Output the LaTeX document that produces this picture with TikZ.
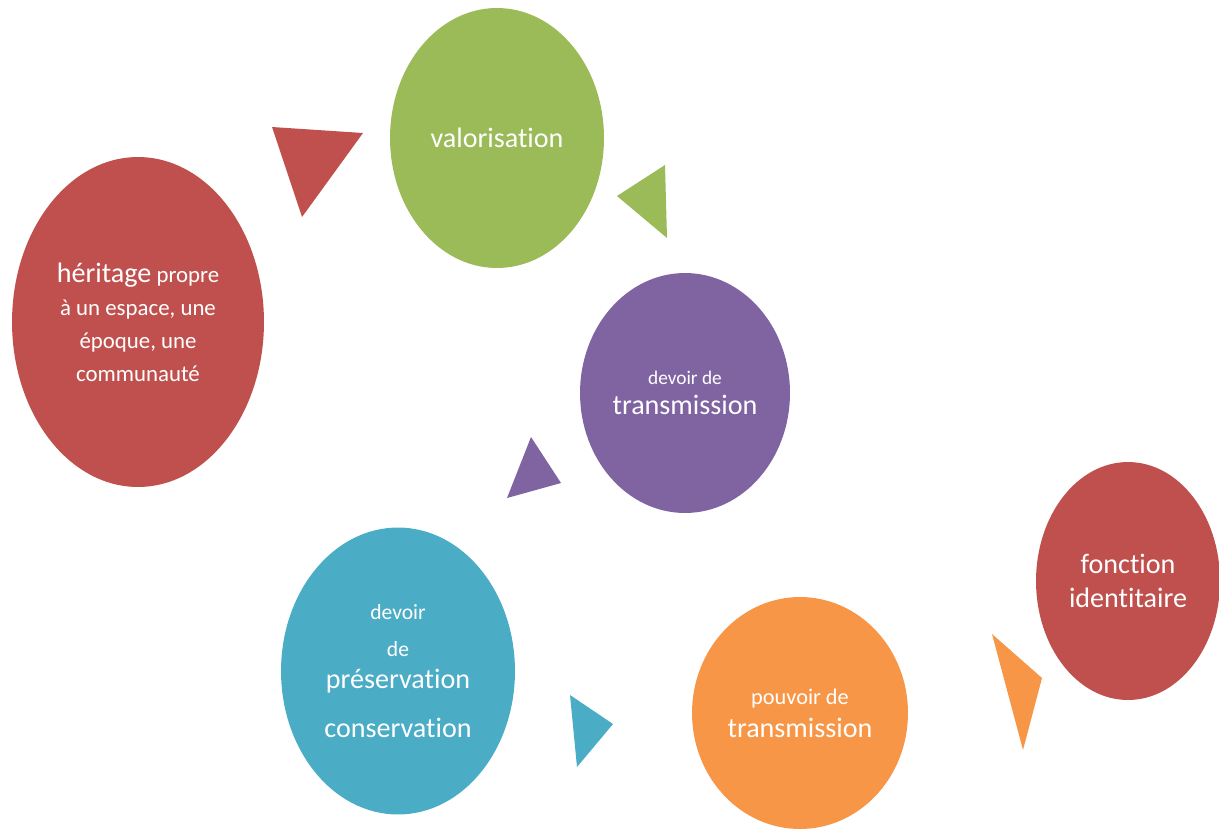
\documentclass[tikz,border=0pt]{standalone}
\usepackage{fontspec}
\setmainfont{Carlito}[Ligatures=NoCommon]
\usetikzlibrary{shapes.geometric}
\definecolor{cred}{HTML}{C0504D}
\definecolor{cgreen}{HTML}{9BBB59}
\definecolor{cpurple}{HTML}{8064A2}
\definecolor{cblue}{HTML}{4BACC6}
\definecolor{corange}{HTML}{F79646}
\tikzset{
  bubble/.style={ellipse, inner sep=0pt, text=white, align=center},
  big/.style={font=\fontsize{16}{19.5}\selectfont},
}
\begin{document}
\begin{tikzpicture}[x=0.02cm, y=-0.02cm]
		\useasboundingbox (0,0) rectangle (1219,829);
		% bulles
		\node (heritage) at (138,322) [bubble, fill=cred, minimum width=5.04cm, minimum height=6.6cm,
			font=\fontsize{13}{18.8}\selectfont]
			{{\fontsize{16}{18.8}\selectfont héritage} propre\\ à un espace, une\\ époque, une\\ communauté};
		\node (valo) at (497,138) [bubble, big, fill=cgreen, minimum width=4.28cm, minimum height=5.2cm] {valorisation};
		\node (transm) at (685,393) [bubble, fill=cpurple, minimum width=4.2cm, minimum height=4.8cm,
			font=\fontsize{11}{17}\selectfont]
			{devoir de\\ {\fontsize{16}{17}\selectfont transmission}};
		\node (preserv) at (398,671) [bubble, fill=cblue, minimum width=4.68cm, minimum height=5.74cm,
			font=\fontsize{12.3}{18}\selectfont]
			{devoir\\[3pt] de\\ {\fontsize{16}{18}\selectfont préservation}\\[10pt] {\fontsize{16}{18}\selectfont conservation}};
		\node (pouvoir) at (800,713) [bubble, fill=corange, minimum width=4.32cm, minimum height=4.64cm,
			font=\fontsize{12.7}{18.7}\selectfont]
			{pouvoir de\\ {\fontsize{16}{18.7}\selectfont transmission}};
		\node (fonction) at (1128,581) [bubble, big, fill=cred, minimum width=3.68cm, minimum height=4.76cm]
			{fonction\\ identitaire};
		% fleches
		\coordinate (R1) at (272,127);
		\coordinate (R2) at (363,133);
		\coordinate (R3) at (302,217);
		\coordinate (G1) at (665,165);
		\coordinate (G2) at (617,196);
		\coordinate (G3) at (667,238);
		\coordinate (P1) at (531,437);
		\coordinate (P2) at (561,483);
		\coordinate (P3) at (507,498);
		\coordinate (B1) at (570,695);
		\coordinate (B2) at (613,724);
		\coordinate (B3) at (577,767);
		\coordinate (O1) at (992,634);
		\coordinate (O2) at (1042,678);
		\coordinate (O3) at (1023,750);
		\fill [cred] (R1)--(R2)--(R3)--cycle;
		\fill [cgreen] (G1)--(G2)--(G3)--cycle;
		\fill [cpurple] (P1)--(P2)--(P3)--cycle;
		\fill [cblue] (B1)--(B2)--(B3)--cycle;
		\fill [corange] (O1)--(O2)--(O3)--cycle;
\end{tikzpicture}
\end{document}
